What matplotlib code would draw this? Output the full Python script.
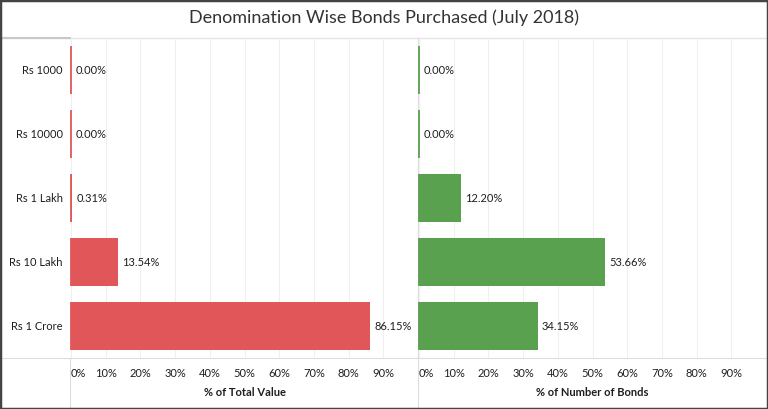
import matplotlib.pyplot as plt
from matplotlib.lines import Line2D
from matplotlib.patches import Rectangle

plt.rcParams['font.family'] = ['Lato', 'DejaVu Sans']

# data
denominations = ['Rs 1000', 'Rs 10000', 'Rs 1 Lakh', 'Rs 10 Lakh', 'Rs 1 Crore']
pct_value = [0.00, 0.00, 0.31, 13.54, 86.15]
pct_count = [0.00, 0.00, 12.20, 53.66, 34.15]
ticks = [0, 10, 20, 30, 40, 50, 60, 70, 80, 90]

W, H = 768, 409
fig = plt.figure(figsize=(W / 100, H / 100), dpi=100)

text_col = '#1e1e1e'
grid_col = '#efefef'
line_col = '#dddddd'
fs = 8

# axes positions (pixels -> figure fraction)
ax_bottom = (H - 358) / H
ax_height = (358 - 38) / H
ax1 = fig.add_axes([71 / W, ax_bottom, 347 / W, ax_height])
ax2 = fig.add_axes([419 / W, ax_bottom, 347 / W, ax_height])

ypos = list(range(len(denominations)))
bar_h = 0.75

for ax, vals, col, title in [(ax1, pct_value, '#e15759', '% of Total Value'),
                             (ax2, pct_count, '#59a14f', '% of Number of Bonds')]:
    ax.barh(ypos, vals, height=bar_h, color=col, linewidth=0, zorder=3)
    # tableau keeps a thin stroke at the base of every bar, even the zero ones
    ax.vlines([0] * len(ypos), [y - bar_h / 2 for y in ypos], [y + bar_h / 2 for y in ypos],
              color=col, linewidth=1.3, zorder=5, clip_on=False)
    for y, v in zip(ypos, vals):
        ax.annotate('%.2f%%' % v, xy=(v, y), xytext=(3, 0), textcoords='offset points',
                    ha='left', va='center', fontsize=fs, color=text_col, zorder=4)
    ax.set_xlim(0, 100)
    ax.set_ylim(4.5, -0.5)
    ax.set_xticks(ticks)
    ax.set_xticklabels(['%d%%' % t for t in ticks], fontsize=fs, color=text_col)
    ax.get_xticklabels()[0].set_horizontalalignment('left')
    ax.tick_params(axis='x', length=0, pad=7)
    ax.set_xlabel(title, fontsize=fs, fontweight='bold', color=text_col, labelpad=6)
    ax.grid(axis='x', color=grid_col, linewidth=0.8, zorder=0)
    for s in ax.spines.values():
        s.set_visible(False)
    ax.set_facecolor('none')

ax1.set_yticks(ypos)
ax1.set_yticklabels(denominations, fontsize=fs, color=text_col)
ax1.tick_params(axis='y', length=0, pad=6)
ax2.set_yticks([])

# title
fig.text(0.5, 1 - 18 / H, 'Denomination Wise Bonds Purchased (July 2018)',
         ha='center', va='center', fontsize=13, color='#333333')

# separator lines, drawn underneath the axes
def px_line(x0, y0, x1, y1, color, lw=0.8):
    fig.add_artist(Line2D([x0 / W, x1 / W], [1 - y0 / H, 1 - y1 / H], zorder=-1,
                          color=color, linewidth=lw, transform=fig.transFigure))

px_line(0, 38, W, 38, '#e4e4e4', 1.0)
px_line(0, 38, 70, 38, '#c8c8c8', 1.5)
px_line(0, 358, W, 358, line_col)
px_line(70, 358, 70, H, line_col)
px_line(418, 38, 418, H, line_col)

# outer frame
fig.add_artist(Rectangle((0, 0), 1, 1, transform=fig.transFigure, fill=False,
                         edgecolor='#444444', linewidth=2.5))

fig.savefig('out.png', dpi=100)
